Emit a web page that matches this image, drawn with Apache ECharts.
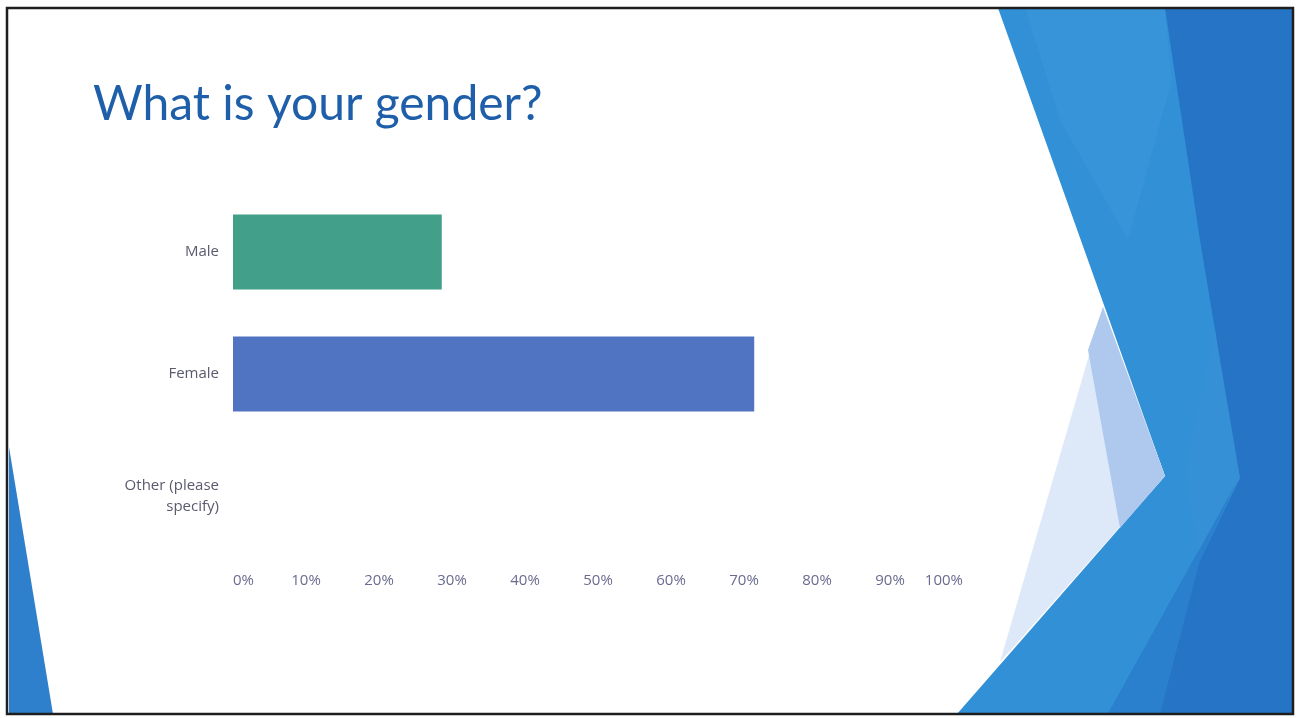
<!DOCTYPE html>
<html>
<head>
<meta charset="utf-8">
<script src="https://cdn.jsdelivr.net/npm/echarts@6/dist/echarts.min.js"></script>
<style>
html,body{margin:0;padding:0;background:#fff;}
#chart{width:1297px;height:718px;}
</style>
</head>
<body>
<div id="chart"></div>
<script>
const titleText = 'What is your gender?';
const categories = ['Male', 'Female', 'Other (please\nspecify)'];
const values = [28.6, 71.4, 0];
const barColors = ['#42a08a', '#5174c2', '#8a8a8a'];
const tickLabels = ['0%', '10%', '20%', '30%', '40%', '50%', '60%', '70%', '80%', '90%', '100%'];

const chart = echarts.init(document.getElementById('chart'), null, {renderer: 'canvas'});

const deco = [
  // big medium-blue shape on right
  {type: 'polygon', z: 0, shape: {points: [[998,8],[1293,8],[1293,714],[957,714],[1165,476]]}, style: {fill: '#3190d6'}},
  // slightly lighter band near top
  {type: 'polygon', z: 0, shape: {points: [[1025,8],[1165,8],[1172,80],[1128,240],[1060,120]]}, style: {fill: '#3d98da', opacity: 0.5}},
  // darker band on far right
  {type: 'polygon', z: 0, shape: {points: [[1165,8],[1293,8],[1293,714],[1108,714],[1238,480],[1215,330],[1200,240]]}, style: {fill: '#2574c6'}},
  // inner medium strip
  {type: 'polygon', z: 0, shape: {points: [[1215,330],[1240,478],[1200,560],[1185,470]]}, style: {fill: '#3690d5'}},
  // light translucent triangle
  {type: 'polygon', z: 0, shape: {points: [[1103,307],[1165,476],[1000,662]]}, style: {fill: '#dde8f8'}},
  {type: 'polygon', z: 0, shape: {points: [[1103,307],[1165,476],[1120,528],[1088,350]]}, style: {fill: '#afc9ee'}},
  // bottom darker wedge
  {type: 'polygon', z: 0, shape: {points: [[1200,560],[1238,480],[1108,714],[1160,714]]}, style: {fill: '#2a80cc'}},
  // left blue sliver
  {type: 'polygon', z: 0, shape: {points: [[9,447],[9,714],[53,714]]}, style: {fill: '#2f80cc'}},
  // slide frame
  {type: 'rect', z: 1, shape: {x: 7, y: 8, width: 1286, height: 706}, style: {fill: null, stroke: '#1e1e1e', lineWidth: 2.5}}
];

chart.setOption({
  backgroundColor: '#ffffff',
  animation: false,
  title: {
    text: titleText,
    left: 88,
    top: 76,
    textStyle: {fontFamily: 'Lato, "Open Sans", sans-serif', fontSize: 48, fontWeight: 'normal', color: '#1f5fa9'}
  },
  graphic: deco,
  grid: {left: 233, right: 334, top: 191, height: 366, containLabel: false},
  xAxis: {
    type: 'value',
    min: 0,
    max: 100,
    interval: 10,
    axisLine: {show: false},
    axisTick: {show: false},
    splitLine: {show: false},
    axisLabel: {
      margin: 16,
      color: '#6b6b90',
      fontFamily: '"Open Sans", sans-serif',
      fontSize: 15,
      alignMinLabel: 'left',
      alignMaxLabel: 'right',
      formatter: function (v) { return tickLabels[Math.round(v / 10)]; }
    }
  },
  yAxis: {
    type: 'category',
    data: categories,
    inverse: true,
    axisLine: {show: false},
    axisTick: {show: false},
    splitLine: {show: false},
    axisLabel: {
      margin: 14,
      color: '#5a5a6e',
      fontFamily: '"Open Sans", sans-serif',
      fontSize: 15,
      lineHeight: 21,
      align: 'right'
    }
  },
  series: [{
    type: 'bar',
    barWidth: 75,
    data: values.map((v, i) => ({value: v, itemStyle: {color: barColors[i]}})),
    label: {show: false}
  }]
});
</script>
</body>
</html>
